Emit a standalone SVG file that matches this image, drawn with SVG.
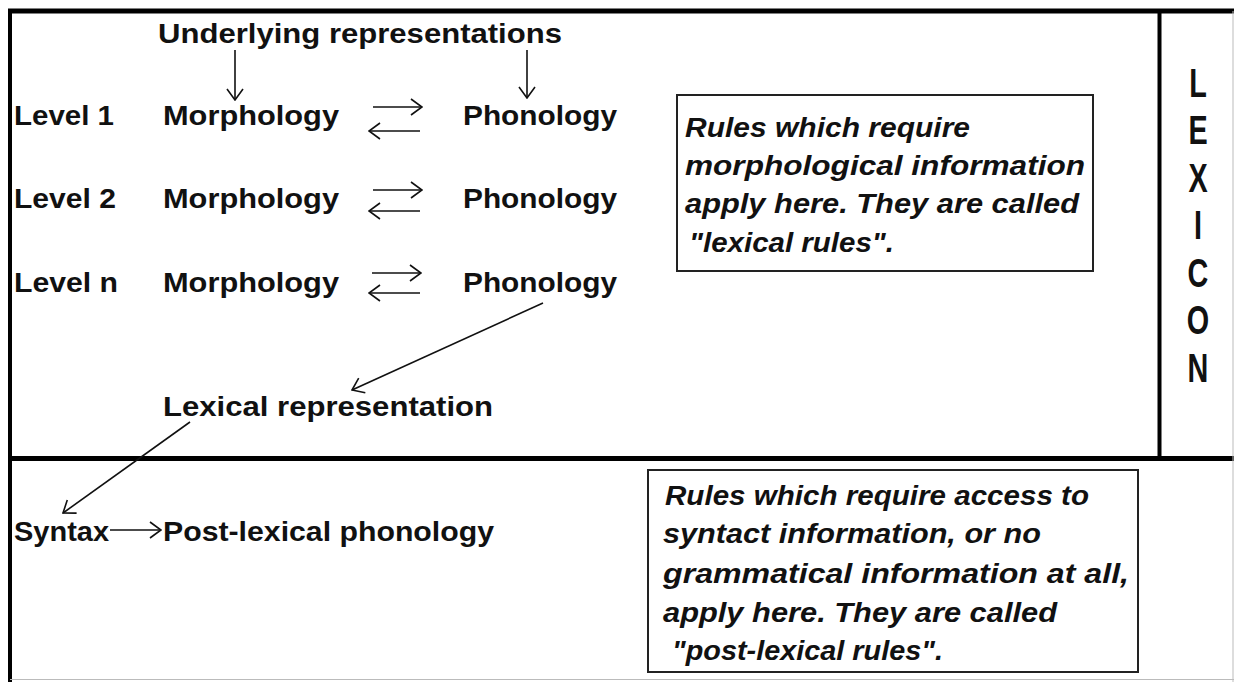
<svg xmlns="http://www.w3.org/2000/svg" width="1234" height="682" viewBox="0 0 1234 682">
  <style>
    .lbl { font-family: "Liberation Sans", Arial, sans-serif; font-weight: bold; font-size: 28px; fill: #111; }
    .note { font-family: "Liberation Sans", Arial, sans-serif; font-weight: bold; font-style: italic; font-size: 27px; fill: #111; }
    .lex { font-family: "Liberation Sans", Arial, sans-serif; font-weight: bold; font-size: 40px; fill: #111; text-anchor: middle; }
    .frame { stroke: #000; fill: none; }
    .box { stroke: #222; stroke-width: 2; fill: none; }
    .conn { stroke: #111; stroke-width: 1.6; fill: none; marker-end: url(#ah); }
  </style>
  <defs>
    <marker id="ah" viewBox="0 0 13 18" refX="12" refY="9" markerWidth="13" markerHeight="18" markerUnits="userSpaceOnUse" orient="auto">
      <path d="M1,1 L12,9 L1,17" fill="none" stroke="#111" stroke-width="1.6"/>
    </marker>
  </defs>
  <rect x="0" y="0" width="1234" height="682" fill="#fff"/>

  <g id="frame">
    <line class="frame" x1="8" y1="11" x2="1234" y2="11" stroke-width="5"/>
    <line class="frame" x1="10" y1="9" x2="10" y2="682" stroke-width="4"/>
    <line class="frame" x1="8" y1="458.5" x2="1234" y2="458.5" stroke-width="5"/>
    <line class="frame" x1="1159.5" y1="11" x2="1159.5" y2="458" stroke-width="4"/>
    <line x1="1233" y1="11" x2="1233" y2="682" stroke="#bbb" stroke-width="1"/>
    <line x1="10" y1="679.5" x2="1234" y2="679.5" stroke="#bbb" stroke-width="1"/>
  </g>

  <g id="underlying"><text class="lbl" x="158" y="43" textLength="404" lengthAdjust="spacingAndGlyphs">Underlying representations</text></g>

  <g id="level1-label"><text class="lbl" x="14" y="125" textLength="100" lengthAdjust="spacingAndGlyphs">Level 1</text></g>
  <g id="level1-morphology"><text class="lbl" x="163" y="125" textLength="176" lengthAdjust="spacingAndGlyphs">Morphology</text></g>
  <g id="level1-phonology"><text class="lbl" x="463" y="125" textLength="154" lengthAdjust="spacingAndGlyphs">Phonology</text></g>

  <g id="level2-label"><text class="lbl" x="14" y="208" textLength="102" lengthAdjust="spacingAndGlyphs">Level 2</text></g>
  <g id="level2-morphology"><text class="lbl" x="163" y="208" textLength="176" lengthAdjust="spacingAndGlyphs">Morphology</text></g>
  <g id="level2-phonology"><text class="lbl" x="463" y="208" textLength="154" lengthAdjust="spacingAndGlyphs">Phonology</text></g>

  <g id="leveln-label"><text class="lbl" x="14" y="292" textLength="104" lengthAdjust="spacingAndGlyphs">Level n</text></g>
  <g id="leveln-morphology"><text class="lbl" x="163" y="292" textLength="176" lengthAdjust="spacingAndGlyphs">Morphology</text></g>
  <g id="leveln-phonology"><text class="lbl" x="463" y="292" textLength="154" lengthAdjust="spacingAndGlyphs">Phonology</text></g>

  <g id="lexical-representation"><text class="lbl" x="163" y="416" textLength="330" lengthAdjust="spacingAndGlyphs">Lexical representation</text></g>
  <g id="syntax"><text class="lbl" x="14" y="541" textLength="95" lengthAdjust="spacingAndGlyphs">Syntax</text></g>
  <g id="post-lexical-phonology"><text class="lbl" x="163" y="541" textLength="331" lengthAdjust="spacingAndGlyphs">Post-lexical phonology</text></g>

  <g id="lexical-rules-note">
    <rect class="box" x="677" y="95" width="416" height="176"/>
    <text class="note" x="685" y="137" textLength="285" lengthAdjust="spacingAndGlyphs">Rules which require</text>
    <text class="note" x="685" y="175" textLength="400" lengthAdjust="spacingAndGlyphs">morphological information</text>
    <text class="note" x="685" y="213" textLength="394" lengthAdjust="spacingAndGlyphs">apply here. They are called</text>
    <text class="note" x="689" y="252" textLength="205" lengthAdjust="spacingAndGlyphs">"lexical rules".</text>
  </g>

  <g id="post-lexical-rules-note">
    <rect class="box" x="648" y="470" width="490" height="202"/>
    <text class="note" x="665" y="505" textLength="424" lengthAdjust="spacingAndGlyphs">Rules which require access to</text>
    <text class="note" x="663" y="543" textLength="378" lengthAdjust="spacingAndGlyphs">syntact information, or no</text>
    <text class="note" x="663" y="583" textLength="466" lengthAdjust="spacingAndGlyphs">grammatical information at all,</text>
    <text class="note" x="663" y="622" textLength="394" lengthAdjust="spacingAndGlyphs">apply here. They are called</text>
    <text class="note" x="672" y="660" textLength="271" lengthAdjust="spacingAndGlyphs">"post-lexical rules".</text>
  </g>

  <g id="lexicon" transform="translate(1198,0) scale(0.72,1)">
    <text class="lex" x="0" y="97">L</text>
    <text class="lex" x="0" y="144.5">E</text>
    <text class="lex" x="0" y="192">X</text>
    <text class="lex" x="0" y="239.5">I</text>
    <text class="lex" x="0" y="287">C</text>
    <text class="lex" x="0" y="334.5">O</text>
    <text class="lex" x="0" y="382">N</text>
  </g>

  <g id="connectors">
    <line class="conn" x1="235" y1="50" x2="235" y2="100"/>
    <line class="conn" x1="527" y1="50" x2="527" y2="98"/>
    <line class="conn" x1="373" y1="107" x2="422" y2="107"/>
    <line class="conn" x1="420" y1="131" x2="369" y2="131"/>
    <line class="conn" x1="373" y1="190" x2="422" y2="190"/>
    <line class="conn" x1="420" y1="211" x2="369" y2="211"/>
    <line class="conn" x1="372" y1="273" x2="421" y2="273"/>
    <line class="conn" x1="420" y1="293" x2="369" y2="293"/>
    <line class="conn" x1="543" y1="303" x2="352" y2="390"/>
    <line class="conn" x1="190" y1="422" x2="63" y2="513"/>
    <line class="conn" x1="110" y1="530" x2="161" y2="530"/>
  </g>
</svg>
